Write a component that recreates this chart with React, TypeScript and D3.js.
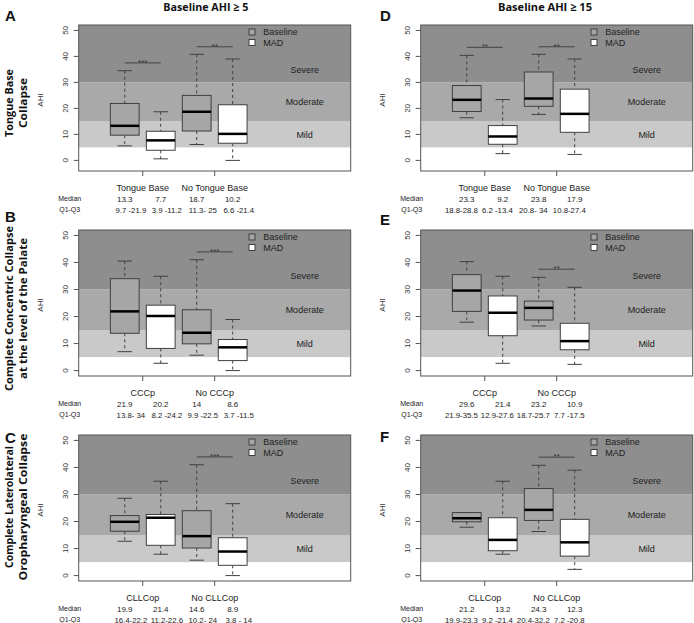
import React from "react";
import * as d3 from "d3";

// ---------- data ----------
const colTitles = ["Baseline AHI ≥ 5", "Baseline AHI ≥ 15"];
const rowTitles = [
  ["Tongue Base", "Collapse"],
  ["Complete Concentric Collapse", "at the level of the Palate"],
  ["Complete Laterolateral", "Oropharyngeal Collapse"],
];
const panelLetters = ["A", "B", "C", "D", "E", "F"];
const groupTB = ["Tongue Base", "No Tongue Base"];
const groupCCCp = ["CCCp", "No CCCp"];
const groupCLLCop = ["CLLCop", "No CLLCop"];
const legendLabels = ["Baseline", "MAD"];
const severityLabels = ["Severe", "Moderate", "Mild"];
const severityLabelY = [35, 22.5, 10];
const bandLimits = [5, 15, 30];
const yTicks = [0, 10, 20, 30, 40, 50];
const xTicks = [1.5, 3.5];
const boxPositions = [1, 2, 3, 4];

// box stats: [whisker low, Q1, median, Q3, whisker high]  (Baseline, MAD, Baseline, MAD)
const statsA = [[5.6, 9.7, 13.3, 21.9, 34.5], [0.6, 3.9, 7.7, 11.2, 18.7], [6.1, 11.3, 18.7, 25, 40.8], [0, 6.6, 10.2, 21.4, 39.0]];
const statsB = [[7.0, 13.8, 21.9, 34, 40.5], [2.7, 8.2, 20.2, 24.2, 34.9], [5.7, 9.9, 14, 22.5, 41.0], [0, 3.7, 8.6, 11.5, 18.9]];
const statsC = [[12.7, 16.4, 19.9, 22.2, 28.6], [7.9, 11.2, 21.4, 22.6, 34.9], [5.7, 10.2, 14.6, 24, 41.0], [0, 3.8, 8.9, 14, 26.6]];
const statsD = [[16.4, 18.8, 23.3, 28.8, 40.4], [2.6, 6.2, 9.2, 13.4, 23.4], [17.7, 20.8, 23.8, 34, 40.8], [2.3, 10.8, 17.9, 27.4, 39.0]];
const statsE = [[17.9, 21.9, 29.6, 35.5, 40.3], [2.7, 12.9, 21.4, 27.6, 34.9], [16.5, 18.7, 23.2, 25.7, 34.5], [2.3, 7.7, 10.9, 17.5, 30.8]];
const statsF = [[17.9, 19.9, 21.2, 23.3, 23.3], [7.9, 9.2, 13.2, 21.4, 34.9], [16.3, 20.4, 24.3, 32.2, 40.8], [2.3, 7.2, 12.3, 20.8, 39.0]];

const medianA = ["13.3", "7.7", "18.7", "10.2"];
const medianB = ["21.9", "20.2", "14", "8.6"];
const medianC = ["19.9", "21.4", "14.6", "8.9"];
const medianD = ["23.3", "9.2", "23.8", "17.9"];
const medianE = ["29.6", "21.4", "23.2", "10.9"];
const medianF = ["21.2", "13.2", "24.3", "12.3"];

const iqrA = ["9.7 -21.9", "3.9 -11.2", "11.3- 25", "6.6 -21.4"];
const iqrB = ["13.8- 34", "8.2 -24.2", "9.9 -22.5", "3.7 -11.5"];
const iqrC = ["16.4-22.2", "11.2-22.6", "10.2- 24", "3.8 - 14"];
const iqrD = ["18.8-28.8", "6.2 -13.4", "20.8- 34", "10.8-27.4"];
const iqrE = ["21.9-35.5", "12.9-27.6", "18.7-25.7", "7.7 -17.5"];
const iqrF = ["19.9-23.3", "9.2 -21.4", "20.4-32.2", "7.2 -20.8"];

// significance bars: [from box, to box, AHI level, label]
const sigA: [number, number, number, string][] = [[1, 2, 37.5, "***"], [3, 4, 43.7, "**"]];
const sigB: [number, number, number, string][] = [[3, 4, 43.9, "***"]];
const sigC: [number, number, number, string][] = [[3, 4, 43.9, "***"]];
const sigD: [number, number, number, string][] = [[1, 2, 43.5, "**"], [3, 4, 43.7, "**"]];
const sigE: [number, number, number, string][] = [[3, 4, 37.5, "**"]];
const sigF: [number, number, number, string][] = [[3, 4, 43.8, "**"]];

// ---------- layout ----------
const W = 694;
const H = 623;
const colLeft = [78.7, 420.7];
const plotW = 272;
const rowTop = [25, 230, 435];
const plotH = 146;
const yDomains = [[-4.08, 52.08], [-2, 52], [-2, 52]];
const xDomain = [-0.28, 7.28];
const letterPos = [[5, 21], [5, 222], [5, 443], [380, 21], [380, 225], [380, 442]];
const rowTitleCenter = [103, 308.5, 507];
const rowTitleLen = [[68, 50], [165, 141], [122, 147]];
const rowTitleX = [12.5, 26.5];
const colTitleX = [205.8, 545];
const colTitleLen = [85, 94];
const iqrShift = [0.17, -0.15];

const C_SEVERE = "#8e8e8e";
const C_MODERATE = "#a9a9a9";
const C_MILD = "#c9c9c9";
const C_BASE = "#a6a6a6";
const C_FRAME = "#555";
const C_BOX = "#404040";
const RFONT = "'Liberation Sans', Arial, sans-serif";
const TFONT = "'Open Sans', 'Liberation Sans', sans-serif";

const panels = [
  { col: 0, row: 0, stats: statsA, groups: groupTB, med: medianA, iqr: iqrA, sig: sigA },
  { col: 0, row: 1, stats: statsB, groups: groupCCCp, med: medianB, iqr: iqrB, sig: sigB },
  { col: 0, row: 2, stats: statsC, groups: groupCLLCop, med: medianC, iqr: iqrC, sig: sigC },
  { col: 1, row: 0, stats: statsD, groups: groupTB, med: medianD, iqr: iqrD, sig: sigD },
  { col: 1, row: 1, stats: statsE, groups: groupCCCp, med: medianE, iqr: iqrE, sig: sigE },
  { col: 1, row: 2, stats: statsF, groups: groupCLLCop, med: medianF, iqr: iqrF, sig: sigF },
];

function Panel({ p }: { p: (typeof panels)[number] }) {
  const left = colLeft[p.col];
  const top = rowTop[p.row];
  const x = d3.scaleLinear().domain(xDomain).range([left, left + plotW]);
  const y = d3.scaleLinear().domain(yDomains[p.row]).range([top + plotH, top]);
  const yMax = yDomains[p.row][1];
  const bw = x(0.4) - x(0);
  const cw = x(0.2) - x(0);
  const bottom = top + plotH;
  const bandTops = [bandLimits[1], bandLimits[2], yMax];
  const bandColors = [C_MILD, C_MODERATE, C_SEVERE];
  return (
    <g>
      {/* background bands */}
      <rect x={left} y={top} width={plotW} height={plotH} fill="#fff" />
      {bandLimits.map((b, i) => (
        <rect key={i} x={left} y={y(bandTops[i])} width={plotW} height={y(b) - y(bandTops[i])} fill={bandColors[i]} />
      ))}
      {/* severity labels */}
      {severityLabels.map((s, i) => (
        <text key={s} x={x(6)} y={y(severityLabelY[i])} dy="0.35em" textAnchor="middle" fontFamily={RFONT} fontSize={9} fill="#222">
          {s}
        </text>
      ))}
      {/* boxes */}
      {p.stats.map((s, i) => {
        const cx = x(boxPositions[i]);
        const [lo, q1, md, q3, hi] = s;
        const fill = i % 2 === 0 ? C_BASE : "#fff";
        return (
          <g key={i}>
            <line x1={cx} x2={cx} y1={y(hi)} y2={y(q3)} stroke={C_BOX} strokeDasharray="3,3" />
            <line x1={cx} x2={cx} y1={y(q1)} y2={y(lo)} stroke={C_BOX} strokeDasharray="3,3" />
            <line x1={cx - cw} x2={cx + cw} y1={y(hi)} y2={y(hi)} stroke={C_BOX} />
            <line x1={cx - cw} x2={cx + cw} y1={y(lo)} y2={y(lo)} stroke={C_BOX} />
            <rect x={cx - bw} y={y(q3)} width={2 * bw} height={y(q1) - y(q3)} fill={fill} stroke={C_BOX} />
            <line x1={cx - bw} x2={cx + bw} y1={y(md)} y2={y(md)} stroke="#000" strokeWidth={2.5} />
          </g>
        );
      })}
      {/* significance */}
      {p.sig.map(([a, b, v, lab], i) => (
        <g key={i}>
          <line x1={x(a)} x2={x(b)} y1={y(v)} y2={y(v)} stroke="#444" />
          <text x={(x(a) + x(b)) / 2} y={y(v) + 2} textAnchor="middle" fontFamily={RFONT} fontSize={8} fill="#333">
            {lab}
          </text>
        </g>
      ))}
      {/* legend */}
      {legendLabels.map((l, i) => {
        const ly = top + 7 + i * 10.5;
        return (
          <g key={l}>
            <rect x={left + 170.3} y={ly - 3} width={6} height={6} fill={i === 0 ? C_BASE : "#fff"} stroke={C_BOX} />
            <text x={left + 184.6} y={ly + 3.2} fontFamily={RFONT} fontSize={9} fill="#222">
              {l}
            </text>
          </g>
        );
      })}
      {/* frame */}
      <rect x={left} y={top} width={plotW} height={plotH} fill="none" stroke={C_FRAME} />
      {/* y axis */}
      {yTicks.map((t) => (
        <g key={t}>
          <line x1={left - 5} x2={left} y1={y(t)} y2={y(t)} stroke={C_FRAME} />
          <text
            transform={`translate(${left - 10.5},${y(t)}) rotate(-90)`}
            textAnchor="middle"
            fontFamily={RFONT}
            fontSize={8}
            fill="#333"
          >
            {t}
          </text>
        </g>
      ))}
      <text transform={`translate(${left - 35.5},${top + 75}) rotate(-90)`} textAnchor="middle" fontFamily={RFONT} fontSize={8} fill="#333">
        AHI
      </text>
      {/* x axis ticks & labels */}
      {xTicks.map((t, i) => (
        <g key={t}>
          <line x1={x(t)} x2={x(t)} y1={bottom} y2={bottom + 5} stroke={C_FRAME} />
          <text x={x(t)} y={bottom + 20} textAnchor="middle" fontFamily={RFONT} fontSize={9} fill="#222">
            {p.groups[i]}
          </text>
        </g>
      ))}
      <text x={left - 9} y={bottom + 30.3} textAnchor="middle" fontFamily={RFONT} fontSize={7} fill="#222">
        Median
      </text>
      <text x={left - 9} y={bottom + 41.3} textAnchor="middle" fontFamily={RFONT} fontSize={7} fill="#222">
        Q1-Q3
      </text>
      {p.med.map((m, i) => (
        <text key={i} x={x(boxPositions[i])} y={bottom + 30.5} textAnchor="middle" fontFamily={RFONT} fontSize={8} fill="#222">
          {m}
        </text>
      ))}
      {p.iqr.map((m, i) => (
        <text
          key={i}
          x={x(boxPositions[i] + iqrShift[p.col])}
          y={bottom + 41.5}
          textAnchor="middle"
          fontFamily={RFONT}
          fontSize={7.8}
          fill="#222"
          style={{ whiteSpace: "pre" }}
        >
          {m}
        </text>
      ))}
    </g>
  );
}

export default function App() {
  return (
    <div style={{ position: "absolute", left: 0, top: 0, width: W, height: H }}>
      <svg width={W} height={H} style={{ display: "block", background: "#fff" }}>
        {colTitles.map((t, i) => (
          <text
            key={t}
            x={colTitleX[i]}
            y={10.5}
            textAnchor="middle"
            fontFamily={TFONT}
            fontWeight="bold"
            fontSize={11}
            textLength={colTitleLen[i]}
            lengthAdjust="spacingAndGlyphs"
            fill="#111"
          >
            {t}
          </text>
        ))}
        {rowTitles.map((lines, r) =>
          lines.map((l, j) => (
            <text
              key={l}
              transform={`translate(${rowTitleX[j]},${rowTitleCenter[r]}) rotate(-90)`}
              textAnchor="middle"
              fontFamily={TFONT}
              fontWeight="bold"
              fontSize={11}
              textLength={rowTitleLen[r][j]}
              lengthAdjust="spacingAndGlyphs"
              fill="#111"
            >
              {l}
            </text>
          ))
        )}
        {panelLetters.map((l, i) => (
          <text key={l} x={letterPos[i][0]} y={letterPos[i][1]} fontFamily={RFONT} fontWeight="bold" fontSize={15} fill="#111">
            {l}
          </text>
        ))}
        {panels.map((p, i) => (
          <Panel key={i} p={p} />
        ))}
      </svg>
    </div>
  );
}
